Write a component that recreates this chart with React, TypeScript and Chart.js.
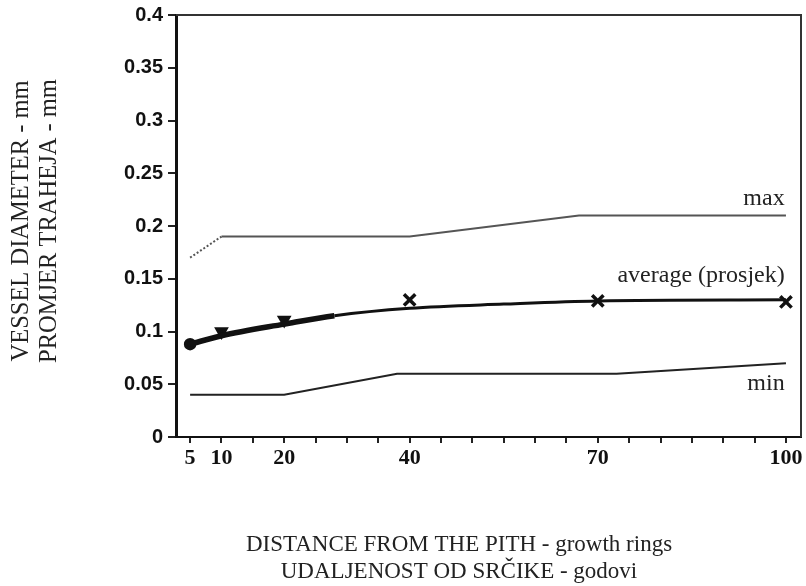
import { useEffect, useRef } from 'react';
import { Chart, registerables } from 'chart.js';

Chart.register(...registerables);

// ---- data ----
const xTickValues = [5, 10, 15, 20, 25, 30, 35, 40, 45, 50, 55, 60, 65, 70, 75, 80, 85, 90, 95, 100];
const xTickLabels = [5, 10, 20, 40, 70, 100];
const yTickLabels = ['0', '0.05', '0.1', '0.15', '0.2', '0.25', '0.3', '0.35', '0.4'];

const maxX = [5, 10, 20, 40, 67, 100];
const maxY = [0.17, 0.19, 0.19, 0.19, 0.21, 0.21];

const minX = [5, 20, 38, 73, 100];
const minY = [0.04, 0.04, 0.06, 0.06, 0.07];

const avgX = [5, 10, 20, 28, 40, 55, 70, 100];
const avgY = [0.088, 0.096, 0.107, 0.115, 0.122, 0.126, 0.129, 0.13];

const avgMarkX = [5, 10, 20, 40, 70, 100];
const avgMarkY = [0.088, 0.1, 0.111, 0.13, 0.129, 0.128];
const avgMarkStyle = ['circle', 'triangle', 'triangle', 'crossRot', 'crossRot', 'crossRot'];
const avgMarkRotation = [0, 180, 180, 0, 0, 0];
const avgMarkRadius = [4.5, 5, 5, 8, 8, 8];

const seriesLabels = ['max', 'average (prosjek)', 'min'];
const seriesLabelY = [0.22, 0.147, 0.0445];
const seriesLabelX = 99.8;

const yTitle = ['VESSEL DIAMETER - mm', 'PROMJER TRAHEJA - mm'];
const xTitle = ['DISTANCE FROM THE PITH - growth rings', 'UDALJENOST OD SRČIKE - godovi'];

const pts = (xs: number[], ys: number[]) => xs.map((x, i) => ({ x, y: ys[i] }));

const SERIF = '"Liberation Serif", "Times New Roman", serif';

const decor = {
  id: 'decor',
  afterDraw(chart: any) {
    const { ctx, chartArea: a, scales } = chart;
    const x = scales.x;
    const y = scales.y;
    ctx.save();
    // top & right frame
    ctx.strokeStyle = '#333';
    ctx.lineWidth = 2;
    ctx.beginPath();
    ctx.moveTo(a.left, a.top);
    ctx.lineTo(a.right, a.top);
    ctx.lineTo(a.right, a.bottom);
    ctx.stroke();

    // series labels
    ctx.fillStyle = '#222';
    ctx.font = `24px ${SERIF}`;
    ctx.textAlign = 'right';
    ctx.textBaseline = 'alphabetic';
    seriesLabels.forEach((t, i) => {
      ctx.fillText(t, x.getPixelForValue(seriesLabelX), y.getPixelForValue(seriesLabelY[i]));
    });

    // x title
    ctx.textAlign = 'center';
    ctx.textBaseline = 'middle';
    ctx.font = `23px ${SERIF}`;
    xTitle.forEach((t, i) => ctx.fillText(t, 459, 545 + i * 27));

    // y title
    ctx.font = `24.5px ${SERIF}`;
    yTitle.forEach((t, i) => {
      ctx.save();
      ctx.translate(22 + i * 28, 221);
      ctx.rotate(-Math.PI / 2);
      ctx.fillText(t, 0, 0);
      ctx.restore();
    });
    ctx.restore();
  },
};

export default function App() {
  const ref = useRef<HTMLCanvasElement>(null);

  useEffect(() => {
    if (!ref.current) return;
    const chart = new Chart(ref.current, {
      type: 'line',
      data: {
        datasets: [
          {
            label: 'max',
            data: pts(maxX, maxY),
            borderColor: '#555',
            borderWidth: 2,
            pointRadius: 0,
            segment: {
              borderDash: (c: any) => (c.p0DataIndex === 0 ? [2, 2] : undefined),
            },
          },
          {
            label: 'min',
            data: pts(minX, minY),
            borderColor: '#222',
            borderWidth: 2,
            pointRadius: 0,
          },
          {
            label: 'average',
            data: pts(avgX, avgY),
            borderColor: '#111',
            borderWidth: 3,
            pointRadius: 0,
            cubicInterpolationMode: 'monotone',
            segment: {
              borderWidth: (c: any) => (avgX[c.p0DataIndex] < 28 ? 5.5 : 3),
            },
          },
          {
            label: 'average markers',
            data: pts(avgMarkX, avgMarkY),
            showLine: false,
            pointStyle: avgMarkStyle as any,
            rotation: avgMarkRotation as any,
            pointRadius: avgMarkRadius as any,
            borderColor: '#111',
            backgroundColor: '#111',
            borderWidth: 3.5,
          } as any,
        ],
      },
      options: {
        responsive: false,
        animation: false,
        layout: { autoPadding: false, padding: { top: 15, right: 5, left: 0, bottom: 0 } },
        plugins: {
          legend: { display: false },
          tooltip: { enabled: false },
        },
        scales: {
          x: {
            type: 'linear',
            min: 2.75,
            max: 102.4,
            afterBuildTicks: (s: any) => {
              s.ticks = xTickValues.map((v) => ({ value: v }));
            },
            afterFit: (s: any) => {
              s.height = 149;
              s.paddingLeft = 0;
              s.paddingRight = 0;
            },
            ticks: {
              autoSkip: false,
              maxRotation: 0,
              padding: 2,
              color: '#111',
              font: { family: SERIF, weight: 'bold', size: 22 },
              callback: (v: any) => (xTickLabels.includes(Number(v)) ? String(v) : ''),
            },
            grid: { drawOnChartArea: false, drawTicks: true, tickLength: 6, lineWidth: 2, color: '#222' },
            border: { display: true, width: 2, color: '#111' },
          },
          y: {
            type: 'linear',
            min: 0,
            max: 0.4,
            afterFit: (s: any) => {
              s.width = 176;
              s.paddingTop = 0;
              s.paddingBottom = 0;
            },
            ticks: {
              stepSize: 0.05,
              padding: 5,
              color: '#111',
              font: { family: '"Liberation Sans", Arial, sans-serif', weight: 'bold', size: 20 },
              callback: (_v: any, i: number) => yTickLabels[i],
            },
            grid: { drawOnChartArea: false, drawTicks: true, tickLength: 8, lineWidth: 2, color: '#222' },
            border: { display: true, width: 3, color: '#111' },
          },
        },
      },
      plugins: [decor],
    } as any);
    return () => chart.destroy();
  }, []);

  return (
    <div style={{ position: 'fixed', left: 0, top: 0, width: 806, height: 586, background: '#fff' }}>
      <canvas ref={ref} width={806} height={586} />
    </div>
  );
}
